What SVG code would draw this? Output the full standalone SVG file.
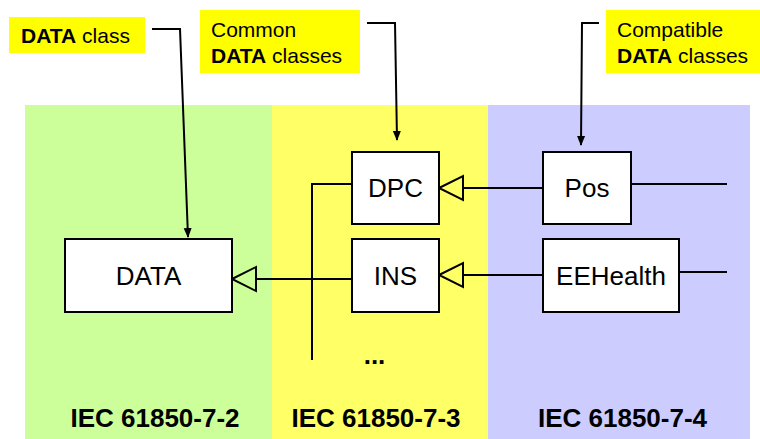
<svg xmlns="http://www.w3.org/2000/svg" width="760" height="439" viewBox="0 0 760 439">
<style>
text{font-family:"Liberation Sans",Arial,sans-serif;fill:#000}
.lbl{font-size:21px}
.b{font-weight:bold}
.box{fill:#fff;stroke:#000;stroke-width:2}
.nt{font-size:26px;text-anchor:middle}
.ln{fill:none;stroke:#000;stroke-width:2}
.tri{fill:none;stroke:#000;stroke-width:2;stroke-linejoin:miter}
.std{font-size:26px;font-weight:bold;text-anchor:middle}
</style>
<defs>
<marker id="ah" markerWidth="10" markerHeight="10" refX="9" refY="5" orient="auto" markerUnits="userSpaceOnUse">
<path d="M0,1 L10,5 L0,9 Z" fill="#000"/>
</marker>
</defs>
<g id="zones">
<rect x="25" y="105" width="247" height="334" fill="#CCFF99"/>
<rect x="272" y="105" width="216" height="334" fill="#FFFF66"/>
<rect x="488" y="105" width="262" height="334" fill="#CCCCFF"/>
<text class="std" x="155" y="426.5">IEC 61850-7-2</text>
<text class="std" x="376" y="426.5">IEC 61850-7-3</text>
<text class="std" x="622.5" y="426.5">IEC 61850-7-4</text>
</g>
<g id="labels">
<rect x="9" y="17" width="136" height="36" fill="#FFFF00"/>
<text class="lbl" x="21" y="43"><tspan class="b">DATA</tspan> class</text>
<rect x="200" y="10" width="160" height="63" fill="#FFFF00"/>
<text class="lbl" x="211" y="37">Common</text>
<text class="lbl" x="211" y="63"><tspan class="b">DATA</tspan> classes</text>
<rect x="606" y="10" width="154" height="63" fill="#FFFF00"/>
<text class="lbl" x="617" y="37">Compatible</text>
<text class="lbl" x="617" y="63"><tspan class="b">DATA</tspan> classes</text>
</g>
<g id="connectors">
<polyline class="ln" points="152,29 180,29 188,237" marker-end="url(#ah)"/>
<polyline class="ln" points="367,23 395,23 397,140" marker-end="url(#ah)"/>
<polyline class="ln" points="599,23 582,23 581,145" marker-end="url(#ah)"/>
<polyline class="ln" points="352,184 312,184 312,360"/>
<line class="ln" x1="543" y1="188" x2="463" y2="188"/>
<polygon class="tri" points="439,188 463,176 463,200"/>
<line class="ln" x1="543" y1="275" x2="463" y2="275"/>
<polygon class="tri" points="439,275 463,263 463,287"/>
<line class="ln" x1="352" y1="279" x2="256" y2="279"/>
<polygon class="tri" points="232,279 256,267 256,291"/>
<line class="ln" x1="631" y1="184" x2="727" y2="184"/>
<line class="ln" x1="679" y1="272" x2="727" y2="272"/>
</g>
<g id="node-data">
<rect class="box" x="65" y="239" width="167" height="73"/>
<text class="nt" x="148.5" y="285">DATA</text>
</g>
<g id="node-dpc">
<rect class="box" x="352" y="152" width="87" height="72"/>
<text class="nt" x="395.5" y="197">DPC</text>
</g>
<g id="node-ins">
<rect class="box" x="352" y="239" width="87" height="73"/>
<text class="nt" x="395.5" y="285">INS</text>
</g>
<g id="node-pos">
<rect class="box" x="543" y="152" width="88" height="72"/>
<text class="nt" x="587" y="197">Pos</text>
</g>
<g id="node-eehealth">
<rect class="box" x="543" y="239" width="136" height="73"/>
<text class="nt" x="611" y="285">EEHealth</text>
</g>
<g id="more">
<text class="std" x="374.5" y="364">...</text>
</g>
</svg>
